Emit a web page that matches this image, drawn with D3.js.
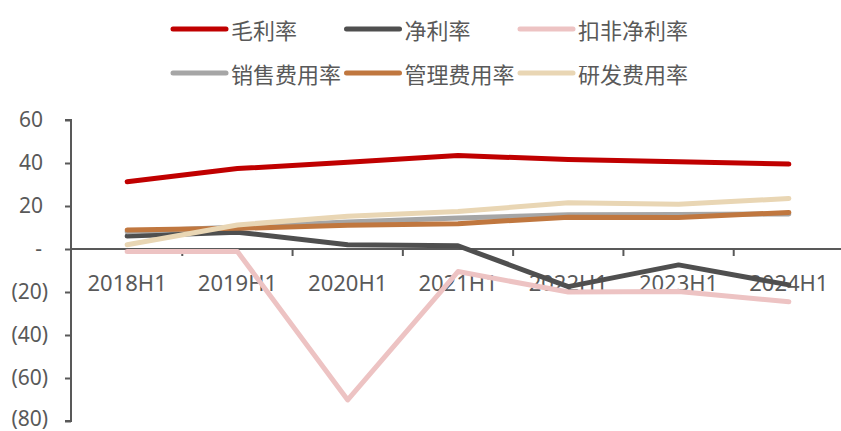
<!DOCTYPE html>
<html>
<head>
<meta charset="utf-8">
<script src="https://cdn.jsdelivr.net/npm/d3@7/dist/d3.min.js"></script>
<style>
  html, body { margin: 0; padding: 0; background: #fff; }
  svg { display: block; }
</style>
</head>
<body>
<svg id="chart" width="841" height="431"></svg>
<script>
// Half-year periods on the x axis
const periods = ["2018H1", "2019H1", "2020H1", "2021H1", "2022H1", "2023H1", "2024H1"];

// Ratios in percent, one array per series
const grossMargin   = [31.3, 37.4, 40.3, 43.5, 41.6, 40.6, 39.5];
const netMargin     = [6.0, 7.8, 2.0, 1.5, -17.5, -7.4, -16.7];
const adjNetMargin  = [-1.2, -1.2, -70.2, -10.5, -20.0, -19.8, -24.5];
const sellingRatio  = [8.0, 10.2, 12.6, 14.4, 15.9, 16.1, 16.3];
const adminRatio    = [8.8, 9.6, 11.0, 11.8, 14.8, 14.7, 17.0];
const rdRatio       = [2.0, 11.2, 15.2, 17.4, 21.5, 20.8, 23.5];

// Y axis ticks
const yTicks = [60, 40, 20, 0, -20, -40, -60, -80];

const seriesNames  = ["毛利率", "净利率", "扣非净利率", "销售费用率", "管理费用率", "研发费用率"];
const seriesValues = [grossMargin, netMargin, adjNetMargin, sellingRatio, adminRatio, rdRatio];
const seriesColors = ["#C00000", "#4F4F4F", "#EDC3C3", "#A6A6A6", "#C0773F", "#E9D6B4"];

const svg = d3.select("#chart");
const axisColor = "#595959";
const textColor = "#595959";
const latinFont = "'Noto Sans', 'DejaVu Sans', sans-serif";
const cjkFont = "'Noto Sans CJK SC', 'Noto Sans', sans-serif";

const x = d3.scaleBand().domain(periods).range([72, 844]);
const y = d3.scaleLinear().domain([-80, 60]).range([421, 120]);
const axisX = 71;
const cx = p => x(p) + x.bandwidth() / 2;

// Y axis (accounting-style labels: negatives in parentheses, zero as a dash)
const yAxis = d3.axisLeft(y).tickValues(yTicks).tickSize(6).tickPadding(0)
  .tickFormat(v => v === 0 ? "-" : v < 0 ? "(" + Math.abs(v) + ")" : String(v));
const gy = svg.append("g").attr("transform", `translate(${axisX},0)`).call(yAxis);
gy.select(".domain").attr("d", `M-6,${y(60)}H0V${y(-80)}H-6`).attr("stroke", axisColor).attr("stroke-width", 2);
gy.selectAll(".tick line").attr("stroke", axisColor).attr("stroke-width", 2);
gy.selectAll(".tick text")
  .attr("fill", textColor)
  .style("font-family", latinFont)
  .style("font-size", "21px")
  .attr("x", v => v === 0 ? -29 : v < 0 ? -23 : -28)
  .attr("dy", v => v === -80 ? "0.2em" : "0.32em");

// X axis along the zero line, ticks at period boundaries
const gx = svg.append("g").attr("transform", `translate(0,${y(0)})`);
gx.append("line").attr("x1", axisX).attr("x2", 841).attr("y1", 0).attr("y2", 0)
  .attr("stroke", axisColor).attr("stroke-width", 2);
gx.selectAll("line.bt").data(periods.slice(1)).join("line").attr("class", "bt")
  .attr("x1", p => x(p)).attr("x2", p => x(p)).attr("y1", 0).attr("y2", 7)
  .attr("stroke", axisColor).attr("stroke-width", 2);
gx.selectAll("text").data(periods).join("text")
  .attr("x", cx).attr("y", 33)
  .attr("text-anchor", "middle").attr("dominant-baseline", "central")
  .attr("fill", textColor)
  .style("font-family", latinFont).style("font-size", "22px")
  .text(d => d);

// Series lines
const line = d3.line().x((d, i) => cx(periods[i])).y(d => y(d));
svg.append("g").selectAll("path").data(seriesValues).join("path")
  .attr("d", line)
  .attr("fill", "none")
  .attr("stroke", (d, i) => seriesColors[i])
  .attr("stroke-width", 5)
  .attr("stroke-linecap", "round")
  .attr("stroke-linejoin", "round");

// Legend: two rows of three
const legend = svg.append("g");
const item = legend.selectAll("g").data(seriesNames).join("g")
  .attr("transform", (d, i) => `translate(${173 + (i % 3) * 173.5},${i < 3 ? 29 : 73})`);
item.append("line").attr("x1", 0).attr("x2", 53).attr("y1", 0).attr("y2", 0)
  .attr("stroke", (d, i) => seriesColors[i]).attr("stroke-width", 5).attr("stroke-linecap", "round");
item.append("text").attr("x", 58).attr("y", 0).attr("dominant-baseline", "central")
  .attr("fill", textColor)
  .style("font-family", cjkFont).style("font-size", "22px")
  .text(d => d);
</script>
</body>
</html>
